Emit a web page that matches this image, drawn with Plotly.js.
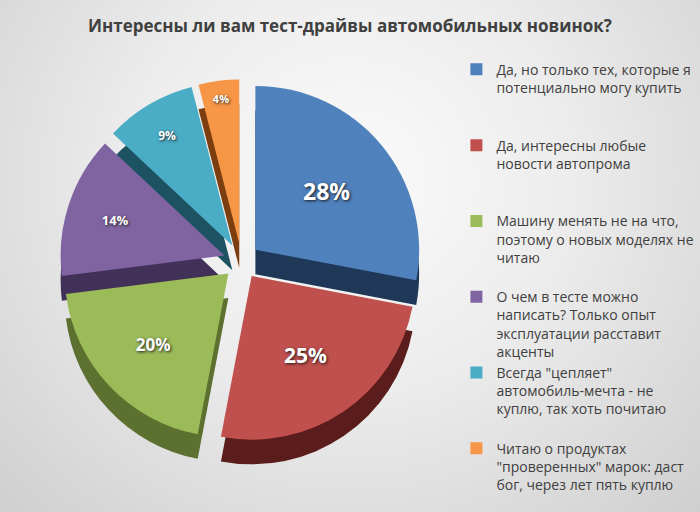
<!DOCTYPE html>
<html>
<head>
<meta charset="utf-8">
<script src="https://cdn.plot.ly/plotly-3.0.1.min.js"></script>
<style>
  html, body { margin: 0; padding: 0; }
  #chart { width: 700px; height: 512px;
    background: radial-gradient(ellipse at 50% 35%, #fbfbfb 0%, #ececec 45%, #cfcfcf 100%); }
</style>
</head>
<body>
<div id="chart"></div>
<script>
const titleText = 'Интересны ли вам тест-драйвы автомобильных новинок?';
const categories = [
  'Да, но только тех, которые я<br>потенциально могу купить',
  'Да, интересны любые<br>новости автопрома',
  'Машину менять не на что,<br>поэтому о новых моделях не<br>читаю',
  'О чем в тесте можно<br>написать? Только опыт<br>эксплуатации расставит<br>акценты',
  'Всегда "цепляет"<br>автомобиль-мечта - не<br>куплю, так хоть почитаю',
  'Читаю о продуктах<br>"проверенных" марок: даст<br>бог, через лет пять куплю'
];
const values = [28, 25, 20, 14, 9, 4];
const topColors = ['#4f81bd', '#c0504d', '#9bbb59', '#8064a2', '#4bacc6', '#f79646'];
const sideColors = ['#1f3858', '#5a1d1b', '#5c7030', '#413058', '#1d5262', '#7c3e0e'];
const pulls = [0.11, 0.11, 0.11, 0.11, 0.11, 0.11];
const labelSizes = [23, 21, 17, 13, 12, 11];

// legend slots: pad each entry to the same number of lines (Excel-like fixed slots)
const slotLines = 4;
const legendLabels = categories.map(function (c, i) {
  const n = c.split('<br>').length;
  let s = c;
  if (i < categories.length - 1) {
    for (let k = n; k < slotLines; k++) s += '<br>\u00a0';
  }
  return s;
});

const pieX = [0.03, 0.66];
const pieY = [0.135, 0.845];
const depth = 0.048;

const base = {
  type: 'pie',
  labels: legendLabels,
  values: values,
  sort: false,
  direction: 'clockwise',
  rotation: 0,
  pull: pulls,
  hole: 0
};

const sideTrace = Object.assign({}, base, {
  domain: { x: pieX, y: [pieY[0] - depth, pieY[1] - depth] },
  marker: { colors: sideColors, line: { width: 0 } },
  textinfo: 'none',
  hoverinfo: 'skip',
  showlegend: false
});

const topTrace = Object.assign({}, base, {
  domain: { x: pieX, y: pieY },
  marker: { colors: topColors, line: { width: 0 } },
  textinfo: 'percent',
  texttemplate: '%{percent:.0%}',
  textposition: 'inside',
  insidetextorientation: 'horizontal',
  insidetextfont: { family: 'Open Sans, sans-serif', color: '#ffffff', size: labelSizes, weight: 'bold',
                    shadow: '1px 1px 3px #1a1a1a' },
  showlegend: true
});

const layout = {
  width: 700, height: 512,
  paper_bgcolor: 'rgba(0,0,0,0)',
  plot_bgcolor: 'rgba(0,0,0,0)',
  margin: { l: 0, r: 0, t: 0, b: 0 },
  title: { text: titleText, x: 0.5, xanchor: 'center', y: 0.95, yanchor: 'middle',
           font: { family: 'Open Sans, sans-serif', size: 17, color: '#404040', weight: 'bold' } },
  showlegend: true,
  legend: {
    x: 0.652, y: 0.895, xanchor: 'left', yanchor: 'top',
    bgcolor: 'rgba(0,0,0,0)',
    font: { family: 'Open Sans, sans-serif', size: 14, color: '#404040' },
    valign: 'top',
    traceorder: 'normal',
    itemclick: false
  }
};

Plotly.newPlot('chart', [sideTrace, topTrace], layout, { displayModeBar: false, staticPlot: true });
</script>
</body>
</html>
